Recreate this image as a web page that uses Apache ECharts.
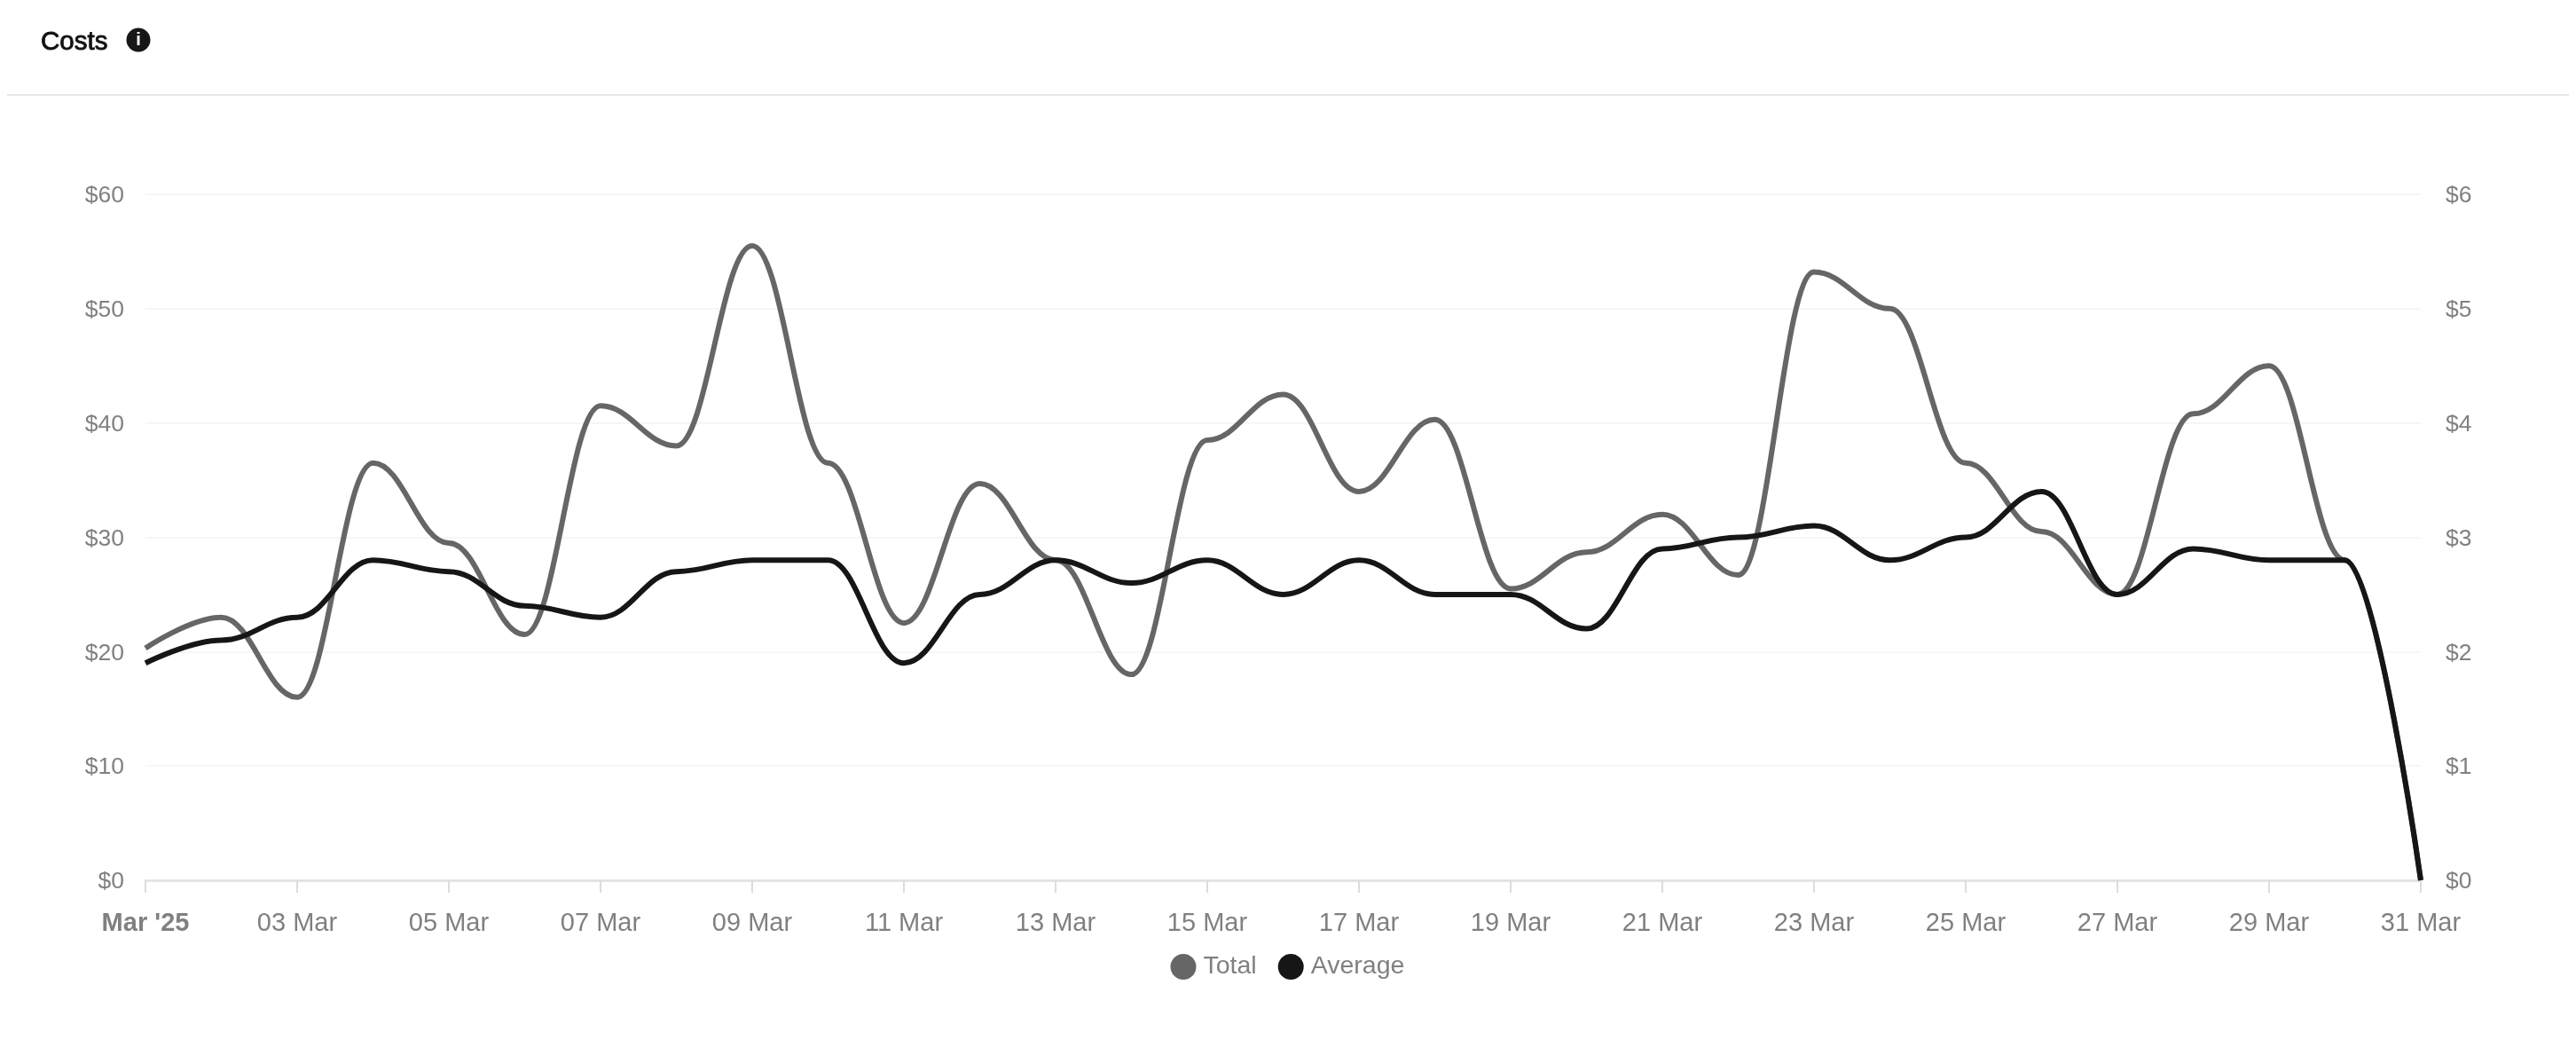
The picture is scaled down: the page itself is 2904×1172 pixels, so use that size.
<!DOCTYPE html>
<html>
<head>
<meta charset="utf-8">
<title>Costs</title>
<style>
    html, body { margin: 0; padding: 0; background: #fff; }
    #chart { width: 2904px; height: 1172px; }
</style>
<script src="https://cdn.jsdelivr.net/npm/echarts@6/dist/echarts.min.js"></script>
</head>
<body>
<div id="chart"></div>
<script>
var days = ["Mar '25", "02 Mar", "03 Mar", "04 Mar", "05 Mar", "06 Mar", "07 Mar", "08 Mar", "09 Mar", "10 Mar",
    "11 Mar", "12 Mar", "13 Mar", "14 Mar", "15 Mar", "16 Mar", "17 Mar", "18 Mar", "19 Mar", "20 Mar", "21 Mar",
    "22 Mar", "23 Mar", "24 Mar", "25 Mar", "26 Mar", "27 Mar", "28 Mar", "29 Mar", "30 Mar", "31 Mar"];
var total = [20.3, 23, 16, 36.5, 29.5, 21.5, 41.5, 38, 55.5, 36.5,
    22.5, 34.7, 28, 18, 38.5, 42.5, 34, 40.3, 25.5, 28.7, 32,
    26.7, 53.2, 50, 36.5, 30.5, 25, 40.8, 45, 28, 0];
var average = [1.9, 2.1, 2.3, 2.8, 2.7, 2.4, 2.3, 2.7, 2.8, 2.8,
    1.9, 2.5, 2.8, 2.6, 2.8, 2.5, 2.8, 2.5, 2.5, 2.2, 2.9,
    3.0, 3.1, 2.8, 3.0, 3.4, 2.5, 2.9, 2.8, 2.8, 0];

var fontFamily = '"Liberation Sans", Arial, sans-serif';
var labelColor = '#808080';

function valueAxis(position, max, interval, margin, withGrid) {
    return {
        type: 'value',
        position: position,
        min: 0,
        max: max,
        interval: interval,
        axisLine: { show: false },
        axisTick: { show: false },
        axisLabel: {
            margin: margin,
            formatter: function (value) {
                return '{tick|$' + value + '}';
            },
            rich: {
                // nudges the label down a little, plain padding has no effect here
                tick: { color: labelColor, fontFamily: fontFamily, fontSize: 26.5, padding: [4, 0, 0, 0] }
            }
        },
        splitLine: { show: withGrid, lineStyle: { color: '#f6f6f6', width: 2 } }
    };
}

function lineSeries(name, data, color, axisIndex, z) {
    return {
        name: name,
        type: 'line',
        data: data,
        yAxisIndex: axisIndex,
        smooth: 0.4,
        smoothMonotone: 'x',
        showSymbol: false,
        z: z,
        lineStyle: { color: color, width: 6 },
        itemStyle: { color: color }
    };
}

var chart = echarts.init(document.getElementById('chart'));
chart.setOption({
    animation: false,
    backgroundColor: '#fff',
    title: {
        text: 'Costs',
        left: 46,
        top: 33,
        padding: 0,
        textStyle: {
            color: '#111',
            fontFamily: fontFamily,
            fontSize: 29.5,
            fontWeight: 'normal',
            textBorderColor: '#111',
            textBorderWidth: 0.8
        }
    },
    graphic: [
        { type: 'circle', shape: { cx: 156, cy: 45, r: 13.5 }, style: { fill: '#171717' } },
        { type: 'text', x: 156, y: 45, style: { text: 'i', fill: '#fff', font: 'bold 20px "Liberation Sans"', align: 'center', verticalAlign: 'middle' }, z: 5 },
        { type: 'line', shape: { x1: 8, y1: 107, x2: 2896, y2: 107 }, style: { stroke: '#e8e8e8', lineWidth: 2 } }
    ],
    legend: {
        left: 1319.5,
        top: 1075,
        padding: 0,
        icon: 'circle',
        itemWidth: 29,
        itemHeight: 29,
        itemGap: 24,
        textStyle: { color: labelColor, fontFamily: fontFamily, fontSize: 28.5, padding: [0, 0, 0, 3] },
        data: ['Total', 'Average']
    },
    grid: { left: 164, right: 175, top: 219, bottom: 180 },
    xAxis: {
        type: 'category',
        data: days,
        boundaryGap: false,
        axisLine: { lineStyle: { color: '#e0e0e0', width: 2.5 } },
        axisTick: { alignWithLabel: true, interval: 1, length: 14, lineStyle: { color: '#dcdcdc', width: 2 } },
        axisLabel: {
            interval: 1,
            color: labelColor,
            fontFamily: fontFamily,
            fontSize: 29,
            margin: 34,
            formatter: function (value, index) {
                return index === 0 ? '{first|' + value + '}' : value;
            },
            rich: {
                first: { color: labelColor, fontFamily: fontFamily, fontSize: 29, fontWeight: 'bold' }
            }
        },
        splitLine: { show: false }
    },
    yAxis: [
        valueAxis('left', 60, 10, 24, true),
        valueAxis('right', 6, 1, 28, false)
    ],
    series: [
        lineSeries('Total', total, '#666666', 0, 2),
        lineSeries('Average', average, '#161616', 1, 3)
    ]
});
</script>
</body>
</html>
